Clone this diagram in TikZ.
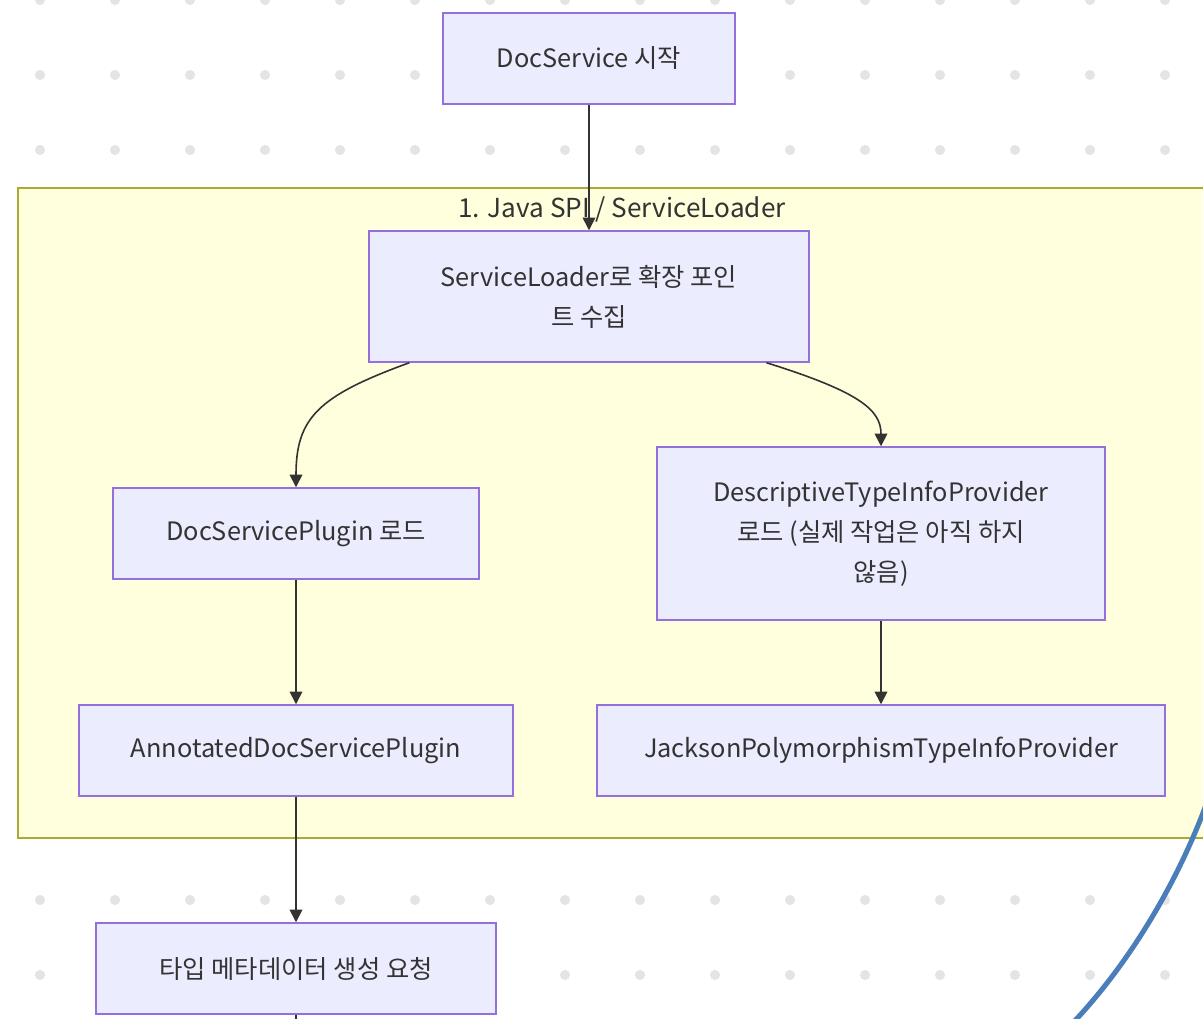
\documentclass[tikz,border=0pt]{standalone}
\usepackage{fontspec}
\setmainfont{Noto Sans CJK KR}
\usetikzlibrary{arrows.meta,calc}
\definecolor{nodefill}{HTML}{ECECFF}
\definecolor{nodeline}{HTML}{9370DB}
\definecolor{clusterfill}{HTML}{FFFFDE}
\definecolor{clusterline}{HTML}{AAAA33}
\definecolor{edgecol}{HTML}{333333}
\definecolor{dotcol}{HTML}{E4E4E4}
\definecolor{inkblue}{HTML}{4A7EBB}
\begin{document}
\begin{tikzpicture}[x=0.75pt,y=-0.75pt,
  box/.style={draw=nodeline,fill=nodefill,line width=1.1pt,
    font=\fontsize{19}{30}\selectfont,text=edgecol,align=center,inner sep=0pt},
  flow/.style={draw=edgecol,line width=1.2pt,-{Triangle[length=9.5pt,width=9.5pt]}},
  cluster/.style={draw=clusterline,fill=clusterfill,line width=1pt}]

\useasboundingbox (0,0) rectangle (1203,1019);
\clip (0,0) rectangle (1203,1019);
\fill[white] (0,0) rectangle (1203,1019);

% dotted canvas
\foreach \i in {0,...,15}
  \foreach \j in {0,...,13}
    \fill[dotcol] (40+75*\i,75*\j) circle (3.8pt);

% subgraph frame
\draw[cluster] (18,188) rectangle (1230,838);
\node[font=\fontsize{19.6}{24}\selectfont,text=edgecol] (title) at (622,209) {1. Java SPI / ServiceLoader};

% nodes
\node[box,minimum width=219pt,minimum height=68.25pt] (A) at (589,58.5) {DocService 시작};
\node[box,minimum width=330pt,minimum height=98.25pt] (B) at (589,296.5) {ServiceLoader로 확장 포인\\트 수집};
\node[box,minimum width=274.5pt,minimum height=68.25pt] (C) at (296,533.5) {DocServicePlugin 로드};
\node[box,minimum width=336pt,minimum height=129.75pt] (D) at (881,533.5) {DescriptiveTypeInfoProvider\\로드 (실제 작업은 아직 하지\\않음)};
\node[box,minimum width=325.5pt,minimum height=68.25pt] (E) at (296,750.5) {AnnotatedDocServicePlugin};
\node[box,minimum width=426pt,minimum height=68.25pt] (F) at (881,750.5) {JacksonPolymorphismTypeInfoProvider};
\node[box,minimum width=300pt,minimum height=68.25pt] (G) at (296,968.5) {타입 메타데이터 생성 요청};
\coordinate (Gout) at (296,1040);

% connectors
\draw[flow] (A.south) -- (B.north);
\draw[flow] ($(B.south west)!0.093!(B.south east)$) .. controls (318,396) and (296,418) .. (C.north);
\draw[flow] ($(B.south west)!0.902!(B.south east)$) .. controls (860,392) and (881,410) .. (D.north);
\draw[flow] (C.south) -- (E.north);
\draw[flow] (D.south) -- (F.north);
\draw[flow] (E.south) -- (G.north);
\draw[draw=edgecol,line width=1.2pt] (G.south) -- (Gout);

% hand-drawn blue stroke
\draw[inkblue,line width=3.8pt] (1214,782) .. controls (1186,868) and (1134,960) .. (1068,1028);
\end{tikzpicture}
\end{document}
